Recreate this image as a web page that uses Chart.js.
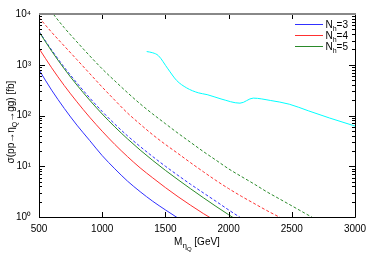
<!DOCTYPE html>
<html>
<head>
<meta charset="utf-8">
<script src="https://cdn.jsdelivr.net/npm/chart.js@4.4.0/dist/chart.umd.min.js"></script>
<style>
  html, body { margin: 0; padding: 0; background: #fff; }
</style>
</head>
<body>
<canvas id="chart" width="374" height="261"></canvas>
<script>
// masas (GeV) y secciones eficaces (fb)
const massGrid = [500, 600, 700, 800, 900, 1000, 1100, 1200, 1300, 1400, 1500, 1600,
  1700, 1800, 1900, 2000, 2100, 2200, 2300, 2400, 2500, 2600, 2700];

const nh3Solid = [794, 316, 138, 64.6, 32.4, 16.2, 8.9, 5.1, 3.16, 2.04, 1.38, 0.95];
const nh4Solid = [2090, 871, 389, 186, 93, 49, 26.9, 15.5, 9.3, 5.9, 3.8, 2.51, 1.70, 1.17, 0.83];
const nh5Solid = [4470, 1860, 832, 398, 202, 107, 59.6, 34.7, 20.9, 13.0, 8.3, 5.43, 3.59, 2.40, 1.62, 1.11, 0.77];

const nh3Dashed = [4570, 1950, 891, 437, 224, 120, 67.6, 39.8, 24.5, 15.5, 10.0, 6.6, 4.4, 2.99, 2.04, 1.38, 0.95];
const nh4Dashed = [8510, 4370, 2340, 1260, 676, 363, 200, 112, 67.6, 41.7, 26.9, 17.8, 11.7, 7.8, 5.25, 3.63,
  2.57, 1.86, 1.35, 1.0, 0.74];
const nh5Dashed = [25000, 11000, 5370, 2820, 1510, 830, 480, 282, 170, 107, 69, 44.7, 29.5, 19.5, 13.2, 8.9,
  6.3, 4.5, 3.16, 2.29, 1.66, 1.2, 0.87];

// limite experimental
const limitMass = [1352, 1400, 1444, 1520, 1589, 1668, 1760, 1830, 1940, 2090, 2195, 2330, 2480, 2630, 2800, 3000];
const limitXsec = [1820, 1720, 1515, 830, 490, 350, 280, 258, 212, 175, 220, 198, 167, 124, 89, 62];

const xTickValues = [500, 1000, 1500, 2000, 2500, 3000];
const yTickValues = [1, 10, 100, 1000, 10000];
const yTickLabels = ["10⁰", "10¹", "10²", "10³", "10⁴"];

const legendLabels = ["3", "4", "5"];

const BLUE = "#3030ff";
const RED = "#ff3030";
const GREEN = "#2a8a2a";
const CYAN = "#00ffff";
const FONT = "Liberation Sans";

function toPoints(xs, ys) {
  return ys.map((v, i) => ({ x: xs[i], y: v }));
}

function line(data, color, dashed) {
  return {
    data: data,
    borderColor: color,
    borderWidth: 1,
    borderDash: dashed ? [3, 2] : [],
    pointRadius: 0,
    fill: false,
    cubicInterpolationMode: "monotone",
  };
}

const datasets = [
  line(toPoints(massGrid, nh3Solid), BLUE, false),
  line(toPoints(massGrid, nh4Solid), RED, false),
  line(toPoints(massGrid, nh5Solid), GREEN, false),
  line(toPoints(massGrid, nh3Dashed), BLUE, true),
  line(toPoints(massGrid, nh4Dashed), RED, true),
  line(toPoints(massGrid, nh5Dashed), GREEN, true),
  line(toPoints(limitMass, limitXsec), CYAN, false),
];

// dibuja una secuencia de trozos [texto, tamaño, desplazamiento] centrada en (0,0)
function drawPieces(ctx, pieces, align) {
  let total = 0;
  pieces.forEach((p) => {
    ctx.font = p[1] + "px '" + FONT + "'";
    total += ctx.measureText(p[0]).width;
  });
  let x = align === "right" ? -total : -total / 2;
  pieces.forEach((p) => {
    ctx.font = p[1] + "px '" + FONT + "'";
    ctx.fillText(p[0], x, p[2]);
    x += ctx.measureText(p[0]).width;
  });
}

const framePlugin = {
  id: "frame",
  afterDraw(chart) {
    const { ctx, chartArea: a, scales } = chart;
    const xs = scales.x;
    const ys = scales.y;
    ctx.save();
    ctx.strokeStyle = "#000";
    ctx.lineWidth = 1;

    // ticks hacia adentro
    ctx.beginPath();
    xTickValues.forEach((v) => {
      const px = Math.round(xs.getPixelForValue(v)) + 0.5;
      ctx.moveTo(px, a.bottom);
      ctx.lineTo(px, a.bottom - 5);
      ctx.moveTo(px, a.top);
      ctx.lineTo(px, a.top + 5);
    });
    for (let k = 0; k < 4; k++) {
      for (let m = 1; m < 10; m++) {
        const py = Math.round(ys.getPixelForValue(m * Math.pow(10, k))) + 0.5;
        const len = m === 1 ? 6 : 3;
        ctx.moveTo(a.left, py);
        ctx.lineTo(a.left + len, py);
        ctx.moveTo(a.right, py);
        ctx.lineTo(a.right - len, py);
      }
    }
    ctx.stroke();

    // marco
    ctx.beginPath();
    ctx.moveTo(a.left + 0.5, a.top);
    ctx.lineTo(a.left + 0.5, a.bottom + 0.5);
    ctx.lineTo(a.right + 0.5, a.bottom + 0.5);
    ctx.lineTo(a.right + 0.5, a.top);
    ctx.stroke();
    ctx.strokeStyle = "#888";
    ctx.lineWidth = 2;
    ctx.beginPath();
    ctx.moveTo(a.left, a.top);
    ctx.lineTo(a.right + 1, a.top);
    ctx.stroke();

    ctx.fillStyle = "#000";
    ctx.textBaseline = "alphabetic";
    ctx.textAlign = "left";

    // leyenda
    const colors = [BLUE, RED, GREEN];
    legendLabels.forEach((lab, i) => {
      const yy = a.top + 10.5 + i * 11;
      ctx.strokeStyle = colors[i];
      ctx.lineWidth = 1;
      ctx.beginPath();
      ctx.moveTo(a.right - 60, yy);
      ctx.lineTo(a.right - 32, yy);
      ctx.stroke();
      ctx.save();
      ctx.translate(a.right - 7, yy + 3.5);
      drawPieces(ctx, [["N", 10, 0], ["h", 7, 2.5], ["=" + lab, 10, 0]], "right");
      ctx.restore();
    });

    // titulo eje x
    ctx.save();
    ctx.translate((a.left + a.right) / 2, 245);
    drawPieces(ctx, [["M", 10, 0], ["η", 8, 3], ["Q", 6, 5.5], [" [GeV]", 10, 0]]);
    ctx.restore();

    // titulo eje y
    ctx.save();
    ctx.translate(14, 122);
    ctx.rotate(-Math.PI / 2);
    drawPieces(ctx, [["σ(pp→η", 10, 0], ["Q", 7, 2.5], ["→gg) [fb]", 10, 0]]);
    ctx.restore();

    ctx.restore();
  },
};

new Chart(document.getElementById("chart"), {
  type: "line",
  data: { datasets: datasets },
  options: {
    responsive: false,
    animation: false,
    devicePixelRatio: 1,
    layout: { padding: { top: 12, right: 19, left: 0, bottom: 0 } },
    plugins: { legend: { display: false }, tooltip: { enabled: false } },
    scales: {
      x: {
        type: "linear",
        min: 500,
        max: 3000,
        grid: { display: false, drawTicks: false },
        border: { display: false },
        afterFit: (s) => { s.height = 44; },
        afterBuildTicks: (s) => { s.ticks = xTickValues.map((v) => ({ value: v })); },
        ticks: {
          padding: 6,
          color: "#000",
          font: { family: FONT, size: 10 },
          maxRotation: 0,
          callback: (v) => String(v),
        },
      },
      y: {
        type: "logarithmic",
        min: 1,
        max: 10000,
        grid: { display: false, drawTicks: false },
        border: { display: false },
        afterFit: (s) => { s.width = 39; },
        afterBuildTicks: (s) => { s.ticks = yTickValues.map((v) => ({ value: v })); },
        ticks: {
          padding: 8,
          color: "#000",
          font: { family: FONT, size: 10 },
          callback: (v) => yTickLabels[yTickValues.indexOf(v)],
        },
      },
    },
  },
  plugins: [framePlugin],
});
</script>
</body>
</html>
